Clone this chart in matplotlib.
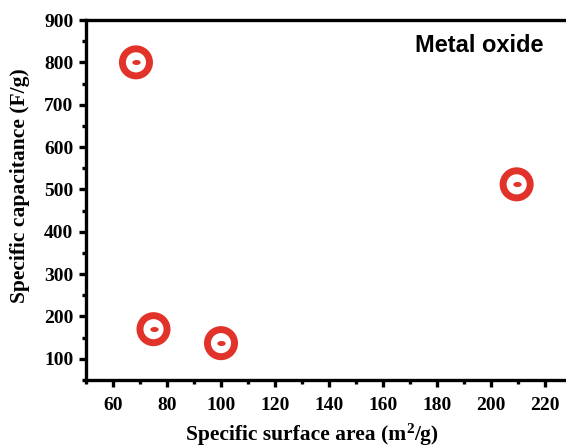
import matplotlib
matplotlib.use("Agg")
import matplotlib.pyplot as plt
from matplotlib import font_manager as fm
from matplotlib.path import Path
from matplotlib.ticker import MultipleLocator
import numpy as np

surface_area = [68.5, 75, 100, 209.5]
capacitance = [800, 170, 137, 512]
x_ticks = [60, 80, 100, 120, 140, 160, 180, 200, 220]
y_ticks = [100, 200, 300, 400, 500, 600, 700, 800, 900]

def find_font(fname, fallback_family):
    for f in fm.findSystemFonts():
        if f.endswith(fname):
            return fm.FontProperties(fname=f)
    return fm.FontProperties(family=fallback_family, weight='bold')

serif_b = find_font('LiberationSerif-Bold.ttf', 'serif')
sans_b = find_font('LiberationSans-Bold.ttf', 'sans-serif')

red = '#E2332A'
fig = plt.figure(figsize=(5.66, 4.45), dpi=100)
ax = fig.add_axes([86/566, 65/445, 486/566, 360/445])

ax.scatter(surface_area, capacitance, s=19.5**2, facecolors='none',
           edgecolors=red, linewidths=5.0, zorder=3)
t = np.linspace(0, 2*np.pi, 60)
ell = Path(np.column_stack([np.cos(t), 0.6*np.sin(t)]), closed=True)
ax.scatter(surface_area, capacitance, s=6**2, marker=ell, color=red,
           linewidths=0, zorder=4)

ax.set_xlim(50, 230)
ax.set_ylim(50, 900)
ax.set_xticks(x_ticks)
ax.set_yticks(y_ticks)
ax.xaxis.set_minor_locator(MultipleLocator(10))
ax.yaxis.set_minor_locator(MultipleLocator(50))

for s in ax.spines.values():
    s.set_linewidth(2.4)
ax.tick_params(which='major', direction='out', length=5, width=2.4, pad=4)
ax.tick_params(axis='x', which='major', pad=7)
ax.tick_params(which='minor', direction='out', length=3, width=2.4)
tick_fp = serif_b.copy()
tick_fp.set_size(14)
for lab in ax.get_xticklabels() + ax.get_yticklabels():
    lab.set_fontproperties(tick_fp)

label_fp = serif_b.copy()
label_fp.set_size(15.5)
sup_fp = serif_b.copy()
sup_fp.set_size(11)

ax.set_ylabel('Specific capacitance (F/g)', fontproperties=label_fp, va='center')
ax.yaxis.set_label_coords((20 - 86) / 486, (380 - 186) / 360)

# x label built from parts so the superscript uses the same bold serif
fig.canvas.draw()
r = fig.canvas.get_renderer()
parts = [('Specific surface area (m', label_fp, 0), ('2', sup_fp, 7), ('/g)', label_fp, 0)]
widths = []
for txt, fp, _ in parts:
    tt = ax.text(0, 0, txt, transform=ax.transAxes, fontproperties=fp)
    bb = tt.get_window_extent(r)
    widths.append(bb.width)
    tt.remove()
total = sum(widths)
x_px = 312 - total / 2
base_px_from_top = 440
for (txt, fp, rise), w in zip(parts, widths):
    fig.text(x_px / 566, (445 - base_px_from_top + rise) / 445, txt,
             fontproperties=fp, ha='left', va='baseline')
    x_px += w

ax.text((479 - 86) / 486, (380 - 45) / 360, 'Metal oxide', transform=ax.transAxes,
        ha='center', va='center', fontproperties=sans_b, fontsize=17)

fig.savefig('out.png', dpi=100)
